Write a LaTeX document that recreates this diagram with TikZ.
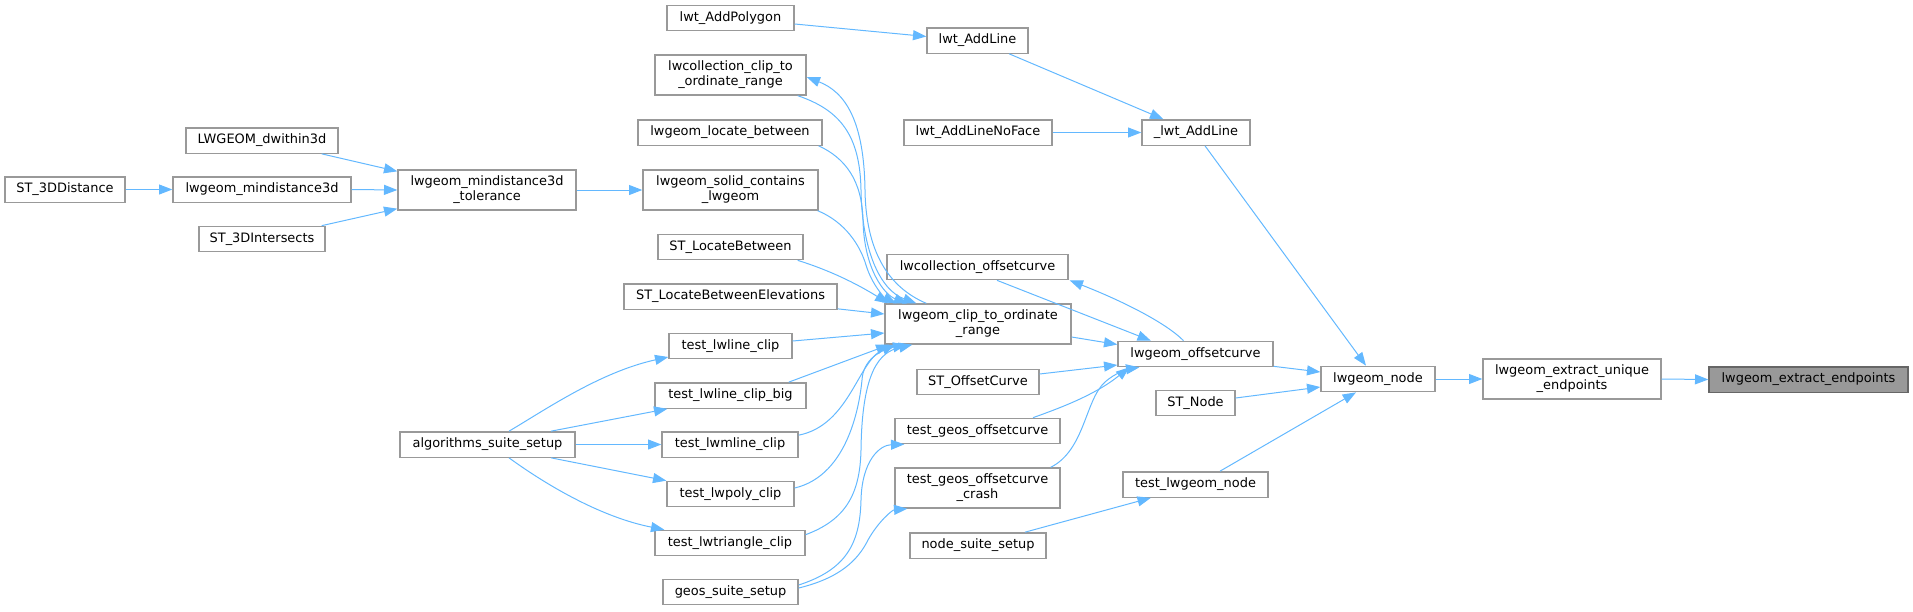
\documentclass[tikz,border=0pt]{standalone}
\usepackage{fontspec}
\setmainfont{DejaVu Sans}
\usetikzlibrary{arrows.meta,calc}
\definecolor{edgeblue}{HTML}{63B8FF}
\definecolor{boxgrey}{HTML}{999999}
\definecolor{rootfill}{HTML}{999999}
\definecolor{rootline}{HTML}{666666}
\begin{document}
\begin{tikzpicture}[x=0.75pt,y=-0.75pt,
    fn/.style={draw=boxgrey,fill=white,line width=1pt,inner sep=0pt,
      minimum height=19pt,align=center,font=\fontsize{9.7}{11.3}\selectfont},
    bw/.style={minimum width=#1*0.75pt},
    two/.style={minimum height=30pt},
    call/.style={draw=edgeblue,line width=0.75pt,-{Triangle[length=10pt,width=7.5pt]}}]
  \useasboundingbox (0,0) rectangle (1913,611);
  % callee side
  \node[fn,bw=199,fill=rootfill,draw=rootline] (endpoints) at (1808.5,379.5) {lwgeom\_extract\_endpoints};
  \node[fn,two,bw=178] (unique) at (1572,379) {lwgeom\_extract\_unique\\\_endpoints};
  \node[fn,bw=114] (lwnode) at (1378,379) {lwgeom\_node};
  \node[fn,bw=108] (addlinei) at (1196,132.5) {\_lwt\_AddLine};
  \node[fn,bw=155] (offset) at (1195.5,354) {lwgeom\_offsetcurve};
  \node[fn,bw=79] (stnode) at (1195.5,403) {ST\_Node};
  \node[fn,bw=145] (testnode) at (1195.5,484.5) {test\_lwgeom\_node};
  \node[fn,bw=101] (addline) at (977.5,40.5) {lwt\_AddLine};
  \node[fn,bw=148] (addnoface) at (978,132.5) {lwt\_AddLineNoFace};
  \node[fn,bw=181] (colloffset) at (977.5,267) {lwcollection\_offsetcurve};
  \node[fn,two,bw=186] (clip) at (978,324) {lwgeom\_clip\_to\_ordinate\\\_range};
  \node[fn,bw=122] (stoffset) at (978,382) {ST\_OffsetCurve};
  \node[fn,bw=165] (testgeos) at (977.5,431) {test\_geos\_offsetcurve};
  \node[fn,two,bw=165] (testcrash) at (977.5,488) {test\_geos\_offsetcurve\\\_crash};
  \node[fn,bw=136] (nodesuite) at (978,545.5) {node\_suite\_setup};
  \node[fn,bw=127] (addpoly) at (730.5,18) {lwt\_AddPolygon};
  \node[fn,two,bw=151] (collclip) at (730.5,75) {lwcollection\_clip\_to\\\_ordinate\_range};
  \node[fn,bw=184] (locate) at (730,132.5) {lwgeom\_locate\_between};
  \node[fn,two,bw=175] (solid) at (730.5,190) {lwgeom\_solid\_contains\\\_lwgeom};
  \node[fn,bw=145] (stlocate) at (730.5,247) {ST\_LocateBetween};
  \node[fn,bw=213] (stlocelev) at (730.5,296.5) {ST\_LocateBetweenElevations};
  \node[fn,bw=123] (tline) at (730.5,346) {test\_lwline\_clip};
  \node[fn,bw=151] (tlinebig) at (730.5,395.5) {test\_lwline\_clip\_big};
  \node[fn,bw=136] (tmline) at (730,444.5) {test\_lwmline\_clip};
  \node[fn,bw=127] (tpoly) at (730.5,494) {test\_lwpoly\_clip};
  \node[fn,bw=150] (ttri) at (730,543) {test\_lwtriangle\_clip};
  \node[fn,bw=135] (geossuite) at (730.5,592) {geos\_suite\_setup};
  \node[fn,two,bw=178] (tol) at (487,190) {lwgeom\_mindistance3d\\\_tolerance};
  \node[fn,bw=175] (algo) at (487.5,444.5) {algorithms\_suite\_setup};
  \node[fn,bw=152] (dwithin) at (262,140.5) {LWGEOM\_dwithin3d};
  \node[fn,bw=178] (mind3d) at (262,189.5) {lwgeom\_mindistance3d};
  \node[fn,bw=126] (st3dint) at (262,239) {ST\_3DIntersects};
  \node[fn,bw=120] (st3ddist) at (65,189.5) {ST\_3DDistance};
  \begin{scope}[call]
    % distance branch
    \draw (st3ddist.east) -- (mind3d.west);
    \draw ($(dwithin.south east)+(-17,0)$) -- ($(tol.north west)+(0,2)$);
    \draw (mind3d.east) -- (tol.west);
    \draw ($(st3dint.north east)+(-4,0)$) -- ($(tol.south west)+(0,-2)$);
    \draw (tol.east) -- (solid.west);
    % into lwgeom_clip_to_ordinate_range from above
    \draw ($(collclip.south east)+(-9,0)$) .. controls (840,110) and (860,135) .. (861,190)
      .. controls (862,250) and (880,290) .. ($(clip.north west)+(32,0)$);
    \draw ($(clip.north west)+(42,0)$) .. controls (895,290) and (866,260) .. (865,190)
      .. controls (864,120) and (845,92) .. ($(collclip.east)+(0,2)$);
    \draw ($(locate.south east)+(-4,0)$) .. controls (845,158) and (862,180) .. (863,220)
      .. controls (864,270) and (885,295) .. ($(clip.north west)+(23,0)$);
    \draw ($(solid.south east)+(-1,0)$) .. controls (845,222) and (860,245) .. (866,265)
      .. controls (872,285) and (885,298) .. ($(clip.north west)+(12,0)$);
    \draw ($(stlocate.south east)+(-6,0)$) .. controls (835,272) and (862,287) .. ($(clip.north west)+(4,0)$);
    \draw ($(stlocelev.south east)+(0,-1)$) -- ($(clip.west)+(0,-10)$);
    \draw ($(tline.east)+(0,-5)$) -- ($(clip.west)+(0,9)$);
    % into lwgeom_clip_to_ordinate_range from below
    \draw ($(tlinebig.north east)+(-18,0)$) -- ($(clip.south west)+(5,0)$);
    \draw ($(tmline.north east)+(0,4)$) .. controls (850,425) and (858,360) .. ($(clip.south west)+(11,0)$);
    \draw ($(tpoly.east)+(0,-6)$) .. controls (850,475) and (860,400) .. (862,380)
      .. controls (863,360) and (880,350) .. ($(clip.south west)+(22,0)$);
    \draw ($(ttri.north east)+(0,5)$) .. controls (845,520) and (860,495) .. (861,450)
      .. controls (862,370) and (880,352) .. ($(clip.south west)+(28,0)$);
    % test suites
    \draw ($(algo.north)+(21.5,0)$) .. controls (545,410) and (600,372) .. ($(tline.west)+(0,11)$);
    \draw ($(algo.north)+(63.5,0)$) -- ($(tlinebig.south west)+(13,0)$);
    \draw (algo.east) -- (tmline.west);
    \draw ($(algo.south)+(63.5,0)$) -- (tpoly.north west);
    \draw ($(algo.south)+(21.5,0)$) .. controls (545,484) and (600,517) .. ($(ttri.north west)+(10,0)$);
    \draw ($(geossuite.east)+(0,-7)$) .. controls (845,570) and (860,545) .. (861,500)
      .. controls (862,460) and (880,445) .. ($(testgeos.south west)+(10,0)$);
    \draw ($(geossuite.east)+(0,-4)$) .. controls (840,578) and (858,560) .. (868,540)
      .. controls (878,522) and (892,510) .. ($(testcrash.south west)+(13,0)$);
    % topology branch
    \draw ($(addpoly.east)+(0,6)$) -- ($(addline.west)+(0,-4)$);
    \draw ($(addline.south east)+(-19.5,0)$) -- ($(addlinei.north west)+(22,0)$);
    \draw (addnoface.east) -- (addlinei.west);
    \draw ($(addlinei.south)+(9,0)$) -- ($(lwnode.north)+(-12,0)$);
    % offset curve
    \draw ($(colloffset.south)+(19.5,0)$) -- ($(offset.north west)+(33.5,0)$);
    \draw ($(offset.north)+(-12,0)$) .. controls (1165,322) and (1120,300) .. ($(colloffset.south east)+(1,0)$);
    \draw ($(clip.east)+(0,13)$) -- ($(offset.west)+(0,-9.5)$);
    \draw ($(stoffset.east)+(0,-8)$) -- ($(offset.west)+(0,11)$);
    \draw ($(testgeos.north)+(55.5,0)$) .. controls (1060,408) and (1095,395) .. ($(offset.south west)+(12,0)$);
    \draw ($(testcrash.north east)+(-10,0)$) .. controls (1085,450) and (1085,400) .. (1105,382)
      .. controls (1115,373) and (1128,369) .. ($(offset.south west)+(22,0)$);
    % node
    \draw ($(offset.south east)+(0,-1)$) -- ($(lwnode.west)+(0,-7)$);
    \draw ($(stnode.east)+(0,-5)$) -- ($(lwnode.west)+(0,8)$);
    \draw ($(testnode.north)+(24.5,0)$) -- ($(lwnode.south)+(-22,0)$);
    \draw ($(nodesuite.north)+(47,0)$) -- ($(testnode.south west)+(28.5,0)$);
    \draw (lwnode.east) -- (unique.west);
    \draw (unique.east) -- (endpoints.west);
  \end{scope}
\end{tikzpicture}
\end{document}
